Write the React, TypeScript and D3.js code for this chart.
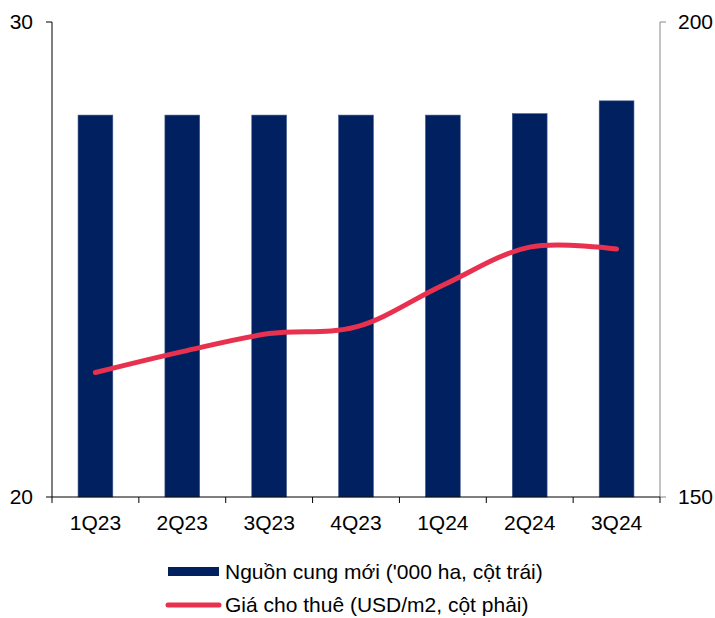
import * as d3 from "d3";

const quarters = ["1Q23", "2Q23", "3Q23", "4Q23", "1Q24", "2Q24", "3Q24"];
const supply = [28.04, 28.04, 28.04, 28.04, 28.04, 28.07, 28.34];
const rent = [163.1, 165.3, 167.2, 167.9, 172.3, 176.3, 176.1];
const leftTicks = [20, 30];
const rightTicks = [150, 200];
const legendLabels = ["Nguồn cung mới ('000 ha, cột trái)", "Giá cho thuê (USD/m2, cột phải)"];

const W = 715;
const H = 618;
const left = 52;
const right = 660;
const top = 22;
const bottom = 497;
const navy = "#002060";
const red = "#E8304F";
const font = "'Liberation Sans', Arial, sans-serif";
const fs = 21;

export default function App() {
  const x = d3.scaleBand().domain(quarters).range([left, right]).paddingInner(0.6).paddingOuter(0.3);
  const xTick = d3.scaleBand().domain(quarters).range([left, right]);
  const yL = d3.scaleLinear().domain([20, 30]).range([bottom, top]);
  const yR = d3.scaleLinear().domain([150, 200]).range([bottom, top]);

  const line = d3
    .line<number>()
    .x((_, i) => xTick(quarters[i])! + xTick.bandwidth() / 2)
    .y((d) => yR(d))
    .curve(d3.curveCatmullRom.alpha(0.5));

  return (
    <svg width={W} height={H} style={{ position: "absolute", left: 0, top: 0 }} fontFamily={font}>
      <rect width={W} height={H} fill="white" />
      {quarters.map((q, i) => (
        <rect
          key={q}
          x={x(q)}
          y={yL(supply[i])}
          width={x.bandwidth()}
          height={bottom - yL(supply[i])}
          fill={navy}
          stroke="#3a5488"
          strokeWidth={0.6}
        />
      ))}
      <path d={line(rent)!} fill="none" stroke={red} strokeWidth={5} strokeLinecap="round" />

      {/* left axis */}
      <line x1={left} x2={left} y1={top} y2={bottom} stroke="#000" strokeWidth={1} />
      {leftTicks.map((t) => (
        <g key={t}>
          <line x1={left - 6} x2={left} y1={yL(t)} y2={yL(t)} stroke="#000" />
          <text x={33} y={yL(t)} dy="0.35em" textAnchor="end" fontSize={fs}>
            {t}
          </text>
        </g>
      ))}

      {/* right axis */}
      <line x1={right} x2={right} y1={top} y2={bottom} stroke="#888" strokeWidth={1} />
      {rightTicks.map((t) => (
        <g key={t}>
          <line x1={right} x2={right + 6} y1={yR(t)} y2={yR(t)} stroke="#888" />
          <text x={678} y={yR(t)} dy="0.35em" textAnchor="start" fontSize={fs}>
            {t}
          </text>
        </g>
      ))}

      {/* x axis */}
      <line x1={left} x2={right} y1={bottom} y2={bottom} stroke="#000" />
      {quarters.map((q) => (
        <line key={q} x1={xTick(q)} x2={xTick(q)} y1={bottom} y2={bottom + 6} stroke="#000" />
      ))}
      <line x1={right} x2={right} y1={bottom} y2={bottom + 6} stroke="#000" />
      {quarters.map((q) => (
        <text key={q} x={xTick(q)! + xTick.bandwidth() / 2} y={523} dy="0.35em" textAnchor="middle" fontSize={fs}>
          {q}
        </text>
      ))}

      {/* legend */}
      <rect x={168} y={567} width={51} height={9} fill={navy} />
      <text x={225} y={572} dy="0.35em" fontSize={fs}>
        {legendLabels[0]}
      </text>
      <line x1={168} x2={219} y1={605} y2={605} stroke={red} strokeWidth={5} strokeLinecap="round" />
      <text x={225} y={605} dy="0.35em" fontSize={fs}>
        {legendLabels[1]}
      </text>
    </svg>
  );
}
